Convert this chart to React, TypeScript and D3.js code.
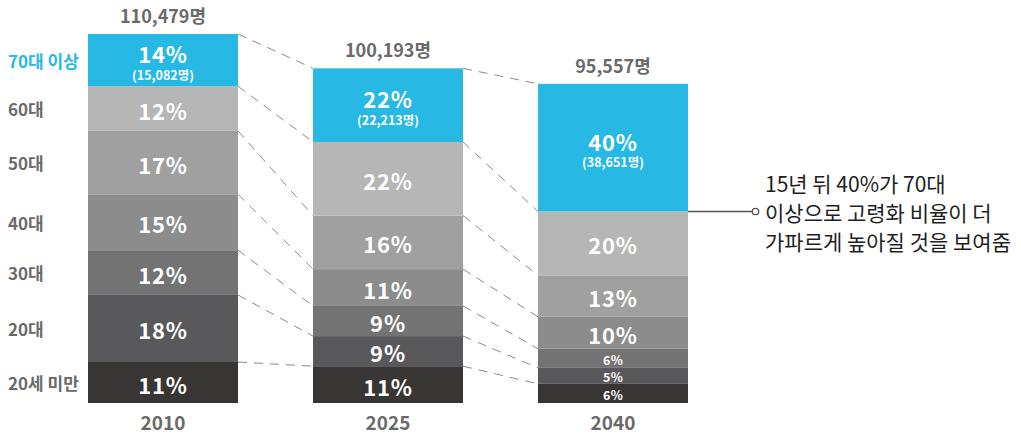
import React from 'react';
import * as d3 from 'd3';

// chart data
const years = ['2010', '2025', '2040'];
const totals = [110479, 100193, 95557];
const groups = ['20세 미만', '20대', '30대', '40대', '50대', '60대', '70대 이상'];
const share2010 = [11, 18, 12, 15, 17, 12, 14];
const share2025 = [11, 9, 9, 11, 16, 22, 22];
const share2040 = [6, 5, 6, 10, 13, 20, 40];
const elderCounts = [15082, 22213, 38651];
const groupColors = ['#383634', '#59585a', '#737373', '#8b8c8b', '#9fa09f', '#b5b6b5', '#27b8e3'];
const noteLines = ['15년 뒤 40%가 70대', '이상으로 고령화 비율이 더', '가파르게 높아질 것을 보여줌'];

const shares = [share2010, share2025, share2040];

const W = 1021;
const H = 436;
const BASE = 403;
const FONT = '"Noto Sans CJK KR", "Noto Sans", sans-serif';
const GREY_TEXT = '#6a6a6a';

const fmt = d3.format(',');

interface Seg {
  group: string;
  idx: number;
  pct: number;
  y0: number;
  y1: number;
}

export default function App() {
  const x = d3.scaleBand<string>().domain(years).range([88, 688]).paddingInner(1 / 3).paddingOuter(0);
  // scale fitted so 2010 total tops out at y=34
  const h = d3.scaleLinear().domain([0, totals[0]]).range([0, BASE - 34]);
  const bw = x.bandwidth();

  const bars = years.map((yr, i) => {
    const s = shares[i];
    const sum = d3.sum(s);
    const barH = h(totals[i]);
    let acc = 0;
    const segs: Seg[] = s.map((p, k) => {
      const y0 = BASE - (acc / sum) * barH;
      acc += p;
      const y1 = BASE - (acc / sum) * barH;
      return { group: groups[k], idx: k, pct: p, y0, y1 };
    });
    return { yr, i, x0: x(yr)!, segs, top: BASE - barH };
  });

  // dashed connectors between neighbouring bars, at every boundary except the base
  const connectors: { x1: number; y1: number; x2: number; y2: number }[] = [];
  for (let i = 0; i < bars.length - 1; i++) {
    const a = bars[i];
    const b = bars[i + 1];
    for (let k = 0; k < groups.length; k++) {
      connectors.push({ x1: a.x0 + bw, y1: a.segs[k].y1, x2: b.x0, y2: b.segs[k].y1 });
    }
  }

  const bar1 = bars[0];
  const last = bars[bars.length - 1];
  const noteY = last.segs[groups.length - 1].y0;
  const noteX = last.x0 + bw;

  return (
    <div style={{ position: 'absolute', left: 0, top: 0 }}>
      <svg width={W} height={H} style={{ display: 'block', background: '#fff' }} fontFamily={FONT}>
        {connectors.map((c, i) => (
          <line key={'c' + i} x1={c.x1} y1={c.y1} x2={c.x2} y2={c.y2}
            stroke="#8a8a8a" strokeWidth={1} strokeDasharray="9,7" />
        ))}

        {bars.map(b => (
          <g key={b.yr}>
            {b.segs.map(s => {
              const sh = s.y0 - s.y1;
              const cy = (s.y0 + s.y1) / 2;
              const isElder = s.idx === groups.length - 1;
              const small = sh < 22;
              return (
                <g key={s.group}>
                  <rect x={b.x0} y={s.y1} width={bw} height={sh} fill={groupColors[s.idx]} />
                  <text x={b.x0 + bw / 2} y={isElder ? cy - 7 : cy + 1} textAnchor="middle"
                    dominantBaseline="central" fill="#fff" fontWeight={700}
                    fontSize={small ? 12.5 : 22} letterSpacing={small ? 0.3 : 0.8}>
                    {s.pct}%
                  </text>
                  {isElder && (
                    <text x={b.x0 + bw / 2} y={cy + 14} textAnchor="middle" dominantBaseline="central"
                      fill="#fff" fontWeight={700} fontSize={12.5}>
                      ({fmt(elderCounts[b.i])}명)
                    </text>
                  )}
                </g>
              );
            })}
            <text x={b.x0 + bw / 2} y={b.top - 11} textAnchor="middle" fill={GREY_TEXT}
              fontWeight={700} fontSize={18}>
              {fmt(totals[b.i])}명
            </text>
            <text x={b.x0 + bw / 2} y={430} textAnchor="middle" fill={GREY_TEXT}
              fontWeight={700} fontSize={19}>
              {b.yr}
            </text>
          </g>
        ))}

        {bar1.segs.map(s => (
          <text key={'l' + s.group} x={8} y={(s.y0 + s.y1) / 2} dominantBaseline="central"
            fontWeight={700} fontSize={17}
            fill={s.idx === groups.length - 1 ? groupColors[s.idx] : GREY_TEXT}>
            {s.group}
          </text>
        ))}

        <line x1={noteX} y1={noteY} x2={752} y2={noteY} stroke="#555" strokeWidth={1.3} />
        <circle cx={755.5} cy={noteY} r={3.2} fill="#fff" stroke="#555" strokeWidth={1.3} />
        {noteLines.map((t, i) => (
          <text key={t} x={765} y={noteY + (i - 1) * 29} dominantBaseline="central"
            fill="#1e1e1e" fontSize={21}>
            {t}
          </text>
        ))}
      </svg>
    </div>
  );
}
